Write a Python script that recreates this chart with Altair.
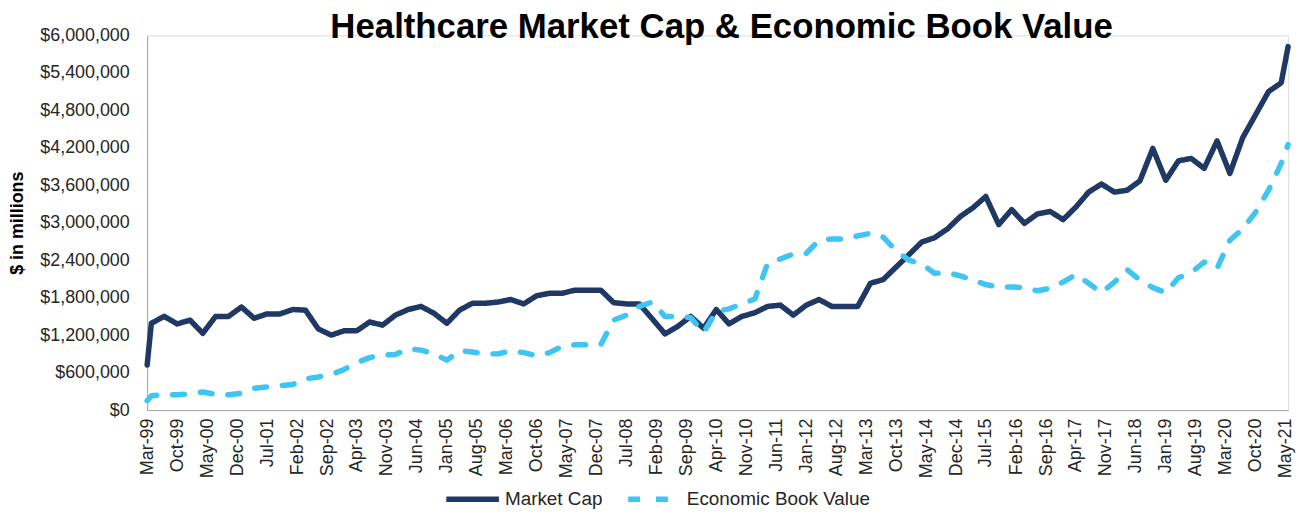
import altair as alt
import pandas as pd

# ---------------- data ----------------
first_date = "1999-03-01"
last_date = "2021-05-19"
quarter_ends = [f"{y}-{md}" for y in range(1999, 2022)
                for md in ("03-31", "06-30", "09-30", "12-31")]
quarter_ends = [d for d in quarter_ends if d <= "2021-03-31"]
dates = [first_date] + quarter_ends + [last_date]

market_cap = [
    720000, 1390000, 1500000, 1380000, 1440000, 1230000, 1500000, 1500000,
    1650000, 1470000, 1540000, 1540000, 1610000, 1600000, 1300000, 1200000,
    1270000, 1270000, 1410000, 1360000, 1520000, 1610000, 1660000, 1550000,
    1390000, 1600000, 1710000, 1710000, 1730000, 1770000, 1700000, 1830000,
    1870000, 1870000, 1920000, 1920000, 1920000, 1720000, 1700000, 1700000,
    1460000, 1220000, 1340000, 1500000, 1310000, 1610000, 1380000, 1500000,
    1560000, 1660000, 1680000, 1520000, 1680000, 1770000, 1660000, 1660000,
    1660000, 2030000, 2090000, 2290000, 2490000, 2690000, 2760000, 2900000,
    3100000, 3240000, 3420000, 2970000, 3210000, 2990000, 3140000, 3180000,
    3050000, 3250000, 3490000, 3620000, 3490000, 3520000, 3670000, 4190000,
    3680000, 3990000, 4030000, 3870000, 4310000, 3790000, 4360000, 4730000,
    5100000, 5240000, 5820000,
]

economic_book_value = [
    150000, 230000, 245000, 245000, 260000, 290000, 250000, 245000,
    270000, 350000, 370000, 390000, 410000, 500000, 530000, 570000,
    650000, 760000, 840000, 880000, 890000, 980000, 960000, 900000,
    800000, 950000, 930000, 900000, 900000, 950000, 920000, 870000,
    920000, 1020000, 1045000, 1045000, 1050000, 1440000, 1520000, 1660000,
    1730000, 1500000, 1500000, 1480000, 1240000, 1580000, 1620000, 1700000,
    1780000, 2350000, 2420000, 2500000, 2510000, 2720000, 2740000, 2740000,
    2790000, 2830000, 2770000, 2550000, 2400000, 2340000, 2190000, 2200000,
    2150000, 2080000, 2010000, 1970000, 1970000, 1960000, 1910000, 1950000,
    2050000, 2170000, 2030000, 1880000, 2050000, 2250000, 2080000, 1960000,
    1880000, 2120000, 2200000, 2370000, 2270000, 2720000, 2900000, 3170000,
    3520000, 3950000, 4250000,
]

series_names = ["Market Cap", "Economic Book Value"]
series_colors = ["#1F3864", "#40C4F4"]

tick_labels = [
    "Mar-99", "Oct-99", "May-00", "Dec-00", "Jul-01", "Feb-02", "Sep-02",
    "Apr-03", "Nov-03", "Jun-04", "Jan-05", "Aug-05", "Mar-06", "Oct-06",
    "May-07", "Dec-07", "Jul-08", "Feb-09", "Sep-09", "Apr-10", "Nov-10",
    "Jun-11", "Jan-12", "Aug-12", "Mar-13", "Oct-13", "May-14", "Dec-14",
    "Jul-15", "Feb-16", "Sep-16", "Apr-17", "Nov-17", "Jun-18", "Jan-19",
    "Aug-19", "Mar-20", "Oct-20", "May-21",
]
y_ticks = [0, 600000, 1200000, 1800000, 2400000, 3000000, 3600000,
           4200000, 4800000, 5400000, 6000000]

# ---------------- table ----------------
df = pd.DataFrame({
    "date": dates + dates,
    "series": [series_names[0]] * len(dates) + [series_names[1]] * len(dates),
    "value": market_cap + economic_book_value,
})

tick_values = []
for lab in tick_labels:
    t = pd.to_datetime(lab, format="%b-%y")
    tick_values.append(alt.DateTime(year=int(t.year), month=int(t.month), date=1, utc=True))

FONT = "Liberation Sans"
TEXT = "#262626"

x_enc = alt.X(
    "date:T",
    scale=alt.Scale(type="utc", nice=False),
    axis=alt.Axis(
        values=tick_values, format="%b-%y", labelAngle=-90, title=None,
        ticks=False, tickSize=0, labelPadding=8, labelFontSize=18,
        labelFont=FONT, labelColor=TEXT, grid=False, domainColor="#A6A6A6",
        labelOverlap=False, labelBound=False, labelFlush=False,
    ),
)
y_enc = alt.Y(
    "value:Q",
    scale=alt.Scale(domain=[0, 6000000], nice=False),
    axis=alt.Axis(
        values=y_ticks, format="$,.0f", title="$ in millions",
        titleFont=FONT, titleFontSize=18, titleFontWeight="bold", titleColor="black",
        titleX=-130, titleBaseline="middle", titleAngle=-90,
        ticks=False, tickSize=0, labelPadding=18, labelFontSize=18,
        labelFont=FONT, labelColor=TEXT, grid=False, domainColor="#A6A6A6",
        labelOverlap=False,
    ),
)
legend_cfg = dict(
    title=None, orient="none", legendX=298, legendY=437,
    direction="horizontal", symbolType="stroke", symbolSize=2800,
    symbolStrokeWidth=5.5, labelFont=FONT, labelFontSize=19,
    labelColor=TEXT, columnPadding=14, labelOffset=3, padding=0,
    labelLimit=400,
)
color_enc = alt.Color(
    "series:N",
    scale=alt.Scale(domain=series_names, range=series_colors),
    legend=alt.Legend(**legend_cfg),
)
dash_enc = alt.StrokeDash(
    "series:N",
    scale=alt.Scale(domain=series_names, range=[[1, 0], [12, 16]]),
    legend=alt.Legend(**legend_cfg),
)

base = alt.Chart(df).encode(x=x_enc, y=y_enc, color=color_enc, strokeDash=dash_enc)

mc_line = base.transform_filter(alt.datum.series == series_names[0]).mark_line(
    strokeWidth=5.5, strokeCap="round", strokeJoin="round")
ebv_line = base.transform_filter(alt.datum.series == series_names[1]).mark_line(
    strokeWidth=5.5, strokeCap="round", strokeJoin="round")

chart = alt.layer(mc_line, ebv_line).properties(
    width=1148, height=377,
    title=alt.TitleParams(
        "Healthcare Market Cap & Economic Book Value", font=FONT, fontSize=35,
        fontWeight="bold", color="black", anchor="middle", offset=-19, dx=4,
    ),
    autosize=alt.AutoSizeParams(type="none"),
    padding={"left": 140, "top": 26, "right": 14, "bottom": 100},
).configure_view(stroke=None).configure(background="white")

chart.save("out.html", embed_options={"renderer": "svg", "actions": False})
